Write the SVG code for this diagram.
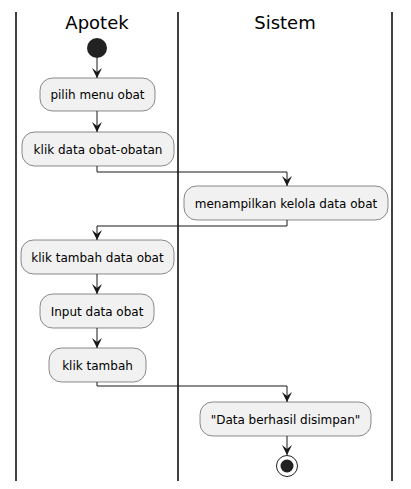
<svg xmlns="http://www.w3.org/2000/svg" width="411" height="489" viewBox="0 0 411 489">
<defs>
<style>
.lane{stroke:#000;stroke-width:1.5}
.act rect{fill:#F1F1F1;stroke:#181818;stroke-width:0.5}
.act text{font-family:"DejaVu Sans",sans-serif;font-size:12px;fill:#000;text-anchor:middle}
.title{font-family:"DejaVu Sans",sans-serif;font-size:18px;fill:#000;text-anchor:middle}
.conn path{fill:none;stroke:#181818;stroke-width:1}
</style>
<marker id="ah" markerWidth="12" markerHeight="12" refX="10" refY="5" orient="auto" markerUnits="userSpaceOnUse" viewBox="0 0 12 10">
<path d="M0,0 L10,5 L0,10 L4,5 Z" fill="#181818"/>
</marker>
</defs>
<rect width="411" height="489" fill="#fff"/>
<g id="lanes">
<line class="lane" x1="16" y1="12" x2="16" y2="481"/>
<line class="lane" x1="178" y1="12" x2="178" y2="481"/>
<line class="lane" x1="392" y1="12" x2="392" y2="481"/>
<text class="title" x="97" y="29">Apotek</text>
<text class="title" x="285" y="29">Sistem</text>
</g>
<g id="start"><circle cx="97" cy="48" r="10" fill="#222"/></g>
<g id="a1" class="act"><rect x="40" y="78" width="115" height="33" rx="12.5"/><text x="97.5" y="99">pilih menu obat</text></g>
<g id="a2" class="act"><rect x="22" y="132" width="152" height="34" rx="12.5"/><text x="98" y="153.5">klik data obat-obatan</text></g>
<g id="a3" class="act"><rect x="184" y="186" width="204" height="34" rx="12.5"/><text x="286" y="207.5">menampilkan kelola data obat</text></g>
<g id="a4" class="act"><rect x="21" y="240" width="153" height="34" rx="12.5"/><text x="97.5" y="261.5">klik tambah data obat</text></g>
<g id="a5" class="act"><rect x="40" y="294" width="114" height="34" rx="12.5"/><text x="97" y="315.5">Input data obat</text></g>
<g id="a6" class="act"><rect x="49" y="348" width="97" height="34" rx="12.5"/><text x="97.5" y="369.5">klik tambah</text></g>
<g id="a7" class="act"><rect x="200" y="402" width="171" height="34" rx="12.5"/><text x="285.5" y="423.5">"Data berhasil disimpan"</text></g>
<g id="end"><circle cx="287" cy="466" r="10.5" fill="none" stroke="#222" stroke-width="1"/><circle cx="287" cy="466" r="6.5" fill="#222"/></g>
<g id="connectors" class="conn">
<path d="M97,58 L97,78" marker-end="url(#ah)"/>
<path d="M97,111 L97,132" marker-end="url(#ah)"/>
<path d="M97,166 L97,172 L287,172 L287,186" marker-end="url(#ah)"/>
<path d="M287,220 L287,226 L97,226 L97,240" marker-end="url(#ah)"/>
<path d="M97,274 L97,294" marker-end="url(#ah)"/>
<path d="M97,328 L97,348" marker-end="url(#ah)"/>
<path d="M97,382 L97,386 L287,386 L287,402" marker-end="url(#ah)"/>
<path d="M287,436 L287,455" marker-end="url(#ah)"/>
</g>
</svg>
